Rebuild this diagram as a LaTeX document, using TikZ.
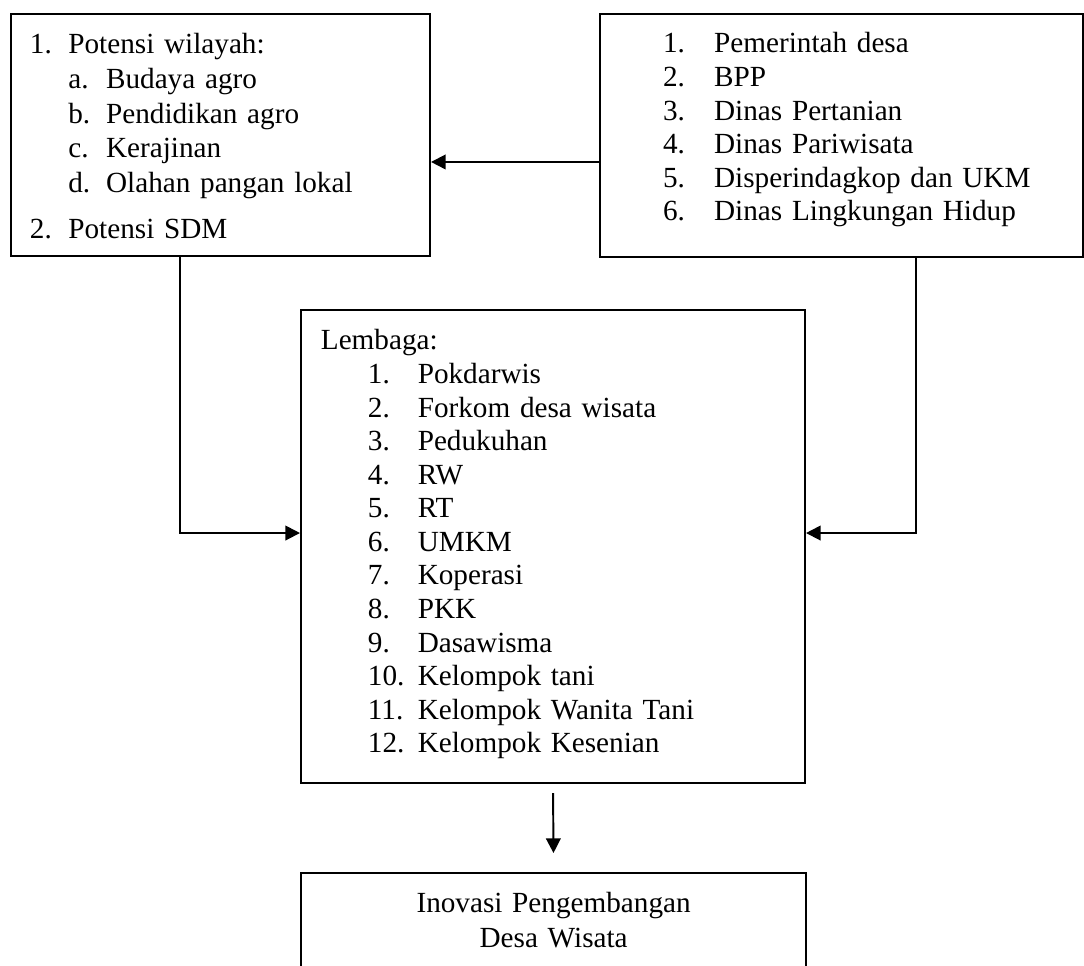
\documentclass[tikz,border=0pt]{standalone}
\usepackage{fontspec}
\setmainfont{Liberation Serif}
\usetikzlibrary{arrows.meta}

\begin{document}
\begin{tikzpicture}[
    listbox/.style={draw, line width=0.8pt, align=left, inner ysep=0pt,
      anchor=north west, font=\fontsize{12}{13.8}\selectfont},
    flowarrow/.style={line width=0.8pt, -{Triangle[length=6pt, width=6pt]}}]
    \useasboundingbox (0, 0) rectangle (15.653, -13.949);
    \clip (0, 0) rectangle (15.653, -13.949);

    \node[listbox, inner xsep=7.8pt, text width=156.6pt, text height=16.4pt,
      text depth=83.1pt, font=\fontsize{12}{14.2}\selectfont]
      (potensi) at (0.144, -0.188)
      {\makebox[15.8pt][l]{1.}Potensi wilayah:\\
       \hspace*{15.8pt}\makebox[15.5pt][l]{a.}Budaya agro\\
       \hspace*{15.8pt}\makebox[15.5pt][l]{b.}Pendidikan agro\\
       \hspace*{15.8pt}\makebox[15.5pt][l]{c.}Kerajinan\\
       \hspace*{15.8pt}\makebox[15.5pt][l]{d.}Olahan pangan lokal\\[4.7pt]
       \makebox[15.8pt][l]{2.}Potensi SDM};
    \node[listbox, inner xsep=0pt, text width=198.5pt, text height=16.0pt,
      text depth=83.9pt] (instansi) at (8.650, -0.188)
      {\hspace*{25.9pt}\makebox[21pt][l]{1.}Pemerintah desa\\
       \hspace*{25.9pt}\makebox[21pt][l]{2.}BPP\\
       \hspace*{25.9pt}\makebox[21pt][l]{3.}Dinas Pertanian\\
       \hspace*{25.9pt}\makebox[21pt][l]{4.}Dinas Pariwisata\\
       \hspace*{25.9pt}\makebox[21pt][l]{5.}Disperindagkop dan UKM\\
       \hspace*{25.9pt}\makebox[21pt][l]{6.}Dinas Lingkungan Hidup};

    \node[listbox, inner xsep=8.2pt, text width=190.7pt, text height=16.4pt,
      text depth=178.0pt] (lembaga) at (4.332, -4.462)
      {Lembaga:\\
       \hspace*{19.3pt}\makebox[20.5pt][l]{1.}Pokdarwis\\
       \hspace*{19.3pt}\makebox[20.5pt][l]{2.}Forkom desa wisata\\
       \hspace*{19.3pt}\makebox[20.5pt][l]{3.}Pedukuhan\\
       \hspace*{19.3pt}\makebox[20.5pt][l]{4.}RW\\
       \hspace*{19.3pt}\makebox[20.5pt][l]{5.}RT\\
       \hspace*{19.3pt}\makebox[20.5pt][l]{6.}UMKM\\
       \hspace*{19.3pt}\makebox[20.5pt][l]{7.}Koperasi\\
       \hspace*{19.3pt}\makebox[20.5pt][l]{8.}PKK\\
       \hspace*{19.3pt}\makebox[20.5pt][l]{9.}Dasawisma\\
       \hspace*{19.3pt}\makebox[20.5pt][l]{10.}Kelompok tani\\
       \hspace*{19.3pt}\makebox[20.5pt][l]{11.}Kelompok Wanita Tani\\
       \hspace*{19.3pt}\makebox[20.5pt][l]{12.}Kelompok Kesenian};

    \node[listbox, align=center, inner xsep=0pt, text width=207.6pt,
      text height=16.4pt, text depth=41.1pt,
      font=\fontsize{12}{14.4}\selectfont] (inovasi) at (4.332, -12.592)
      {Inovasi Pengembangan\\Desa Wisata};

    \coordinate (toparrow) at (0, -2.339);
    \coordinate (lbend) at (2.599, -7.697);
    \coordinate (rbend) at (13.227, -7.697);
    \draw[flowarrow] (instansi.west |- toparrow) -- (potensi.east |- toparrow);
    \draw[flowarrow] (potensi.south -| lbend) -- (lbend) -- (lembaga.west |- lbend);
    \draw[flowarrow] (instansi.south -| rbend) -- (rbend) -- (lembaga.east |- rbend);
    \draw[flowarrow, shorten <=3.7pt, shorten >=7.8pt] (lembaga.south) -- (inovasi.north);
  \end{tikzpicture}
\end{document}
